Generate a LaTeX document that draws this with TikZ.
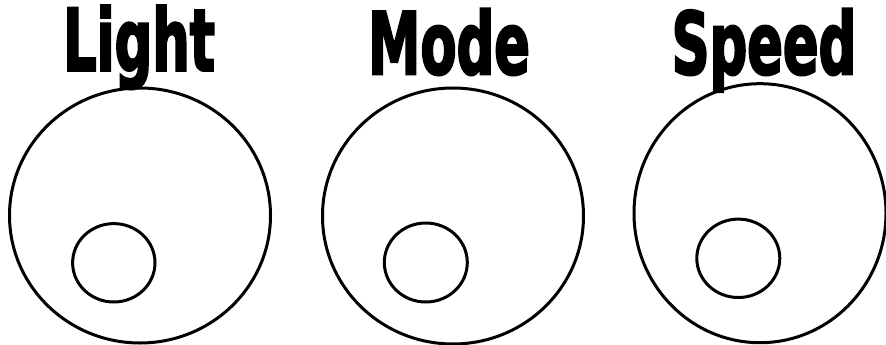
\documentclass[tikz,border=0pt]{standalone}
\usepackage{fontspec}
\newfontfamily\knobfont[FakeBold=3]{DejaVu Sans Condensed Bold}
\tikzset{
  knob/.style={line width=3pt},
  knoblabel/.style={anchor=base, inner sep=0pt, xscale=0.68, font=\knobfont\fontsize{86}{96}\selectfont}
}
\begin{document}
\begin{tikzpicture}[x=1pt,y=1pt,yscale=-1,xscale=1]
  \useasboundingbox (0,0) rectangle (886,345);
  %Shape: Circle [Light]
  \draw [knob] (140,215.5) ellipse [x radius=130.5, y radius=127.5];
  \draw [knob] (113.8,262.8) ellipse [x radius=41.2, y radius=39.2];
  %Shape: Circle [Mode]
  \draw [knob] (453,216) ellipse [x radius=130.5, y radius=128];
  \draw [knob] (425.8,262.5) ellipse [x radius=41.5, y radius=39.5];
  %Shape: Circle [Speed]
  \draw [knob] (760,213.2) ellipse [x radius=126, y radius=129.5];
  \draw [knob] (738.3,258.3) ellipse [x radius=41.5, y radius=39.2];

  % Text Node
  \node [knoblabel] (light) at (139,70.7) {Light};
  % Text Node
  \node [knoblabel] (mode) at (449,74) {Mode};
  % Text Node
  \node [knoblabel] (speed) at (764,74) {Speed};
\end{tikzpicture}
\end{document}
